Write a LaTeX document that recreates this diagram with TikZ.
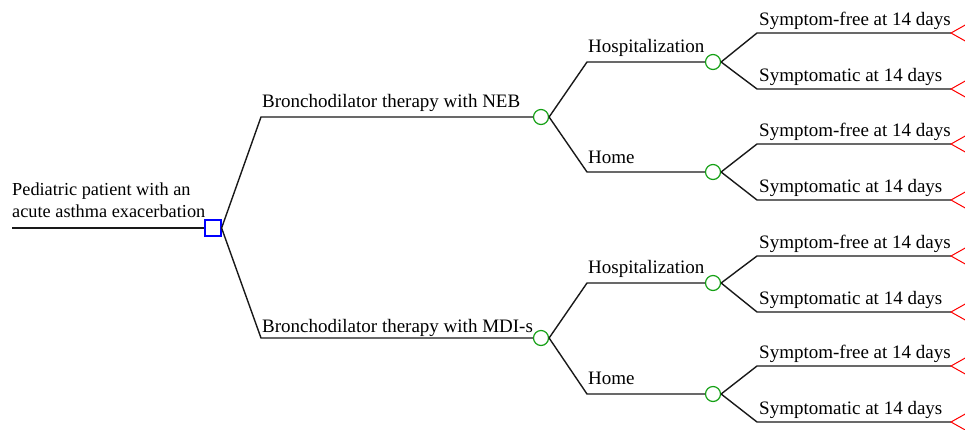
\documentclass[tikz,border=0pt]{standalone}
\usepackage{fontspec}
\setmainfont{Liberation Serif}
\definecolor{chgreen}{RGB}{20,160,20}
\definecolor{decblue}{RGB}{0,0,255}
\definecolor{termred}{RGB}{255,0,0}
\begin{document}
\begin{tikzpicture}[x=1pt,y=-1pt,
  branch/.style={draw=black!90, line width=1.4pt},
  chance/.style={circle, draw=chgreen, line width=1.2pt, minimum size=15pt, inner sep=0pt},
  decision/.style={rectangle, draw=decblue, line width=1.2pt, minimum size=16pt, inner sep=0pt},
  lbl/.style={anchor=base west, inner sep=0pt, font=\fontsize{19}{22}\selectfont},
  term/.style={draw=termred, line width=1pt}]
\useasboundingbox (0,0) rectangle (965,429);
% root
\coordinate (r0) at (12,228);
\node[decision] (d) at (213,228) {};
\draw[branch] (r0) -- (d.west);
\node[lbl, align=left, font=\fontsize{18.3}{22}\selectfont] (rootlbl) at (12,217) {Pediatric patient with an\\acute asthma exacerbation};
% first level
\coordinate (b1) at (261,117);
\coordinate (b2) at (261,338);
\node[chance] (c1) at (541,117) {};
\node[chance] (c2) at (541,338) {};
\draw[branch] (d.east) -- (b1) -- (c1.west);
\draw[branch] (d.east) -- (b2) -- (c2.west);
\node[lbl] (l1) at (262,107) {Bronchodilator therapy with NEB};
\node[lbl] (l2) at (262,332) {Bronchodilator therapy with MDI-s};
% second level
\coordinate (b11) at (587,62);
\coordinate (b12) at (587,172);
\coordinate (b21) at (587,283);
\coordinate (b22) at (587,394);
\node[chance] (c11) at (713,62) {};
\node[chance] (c12) at (713,172) {};
\node[chance] (c21) at (713,283) {};
\node[chance] (c22) at (713,394) {};
\draw[branch] (c1.east) -- (b11) -- (c11.west);
\draw[branch] (c1.east) -- (b12) -- (c12.west);
\draw[branch] (c2.east) -- (b21) -- (c21.west);
\draw[branch] (c2.east) -- (b22) -- (c22.west);
\node[lbl] (l11) at (588,52) {Hospitalization};
\node[lbl] (l12) at (588,163) {Home};
\node[lbl] (l21) at (588,273) {Hospitalization};
\node[lbl] (l22) at (588,384) {Home};
% third level
\foreach \c/\ya/\yb/\n in {c11/33/89/1, c12/144/200/2, c21/256/312/3, c22/366/422/4}{
  \coordinate (s\n a) at (757,\ya);
  \coordinate (s\n b) at (757,\yb);
  \coordinate (t\n a) at (951,\ya);
  \coordinate (t\n b) at (951,\yb);
  \draw[branch] (\c.east) -- (s\n a) -- (t\n a);
  \draw[branch] (\c.east) -- (s\n b) -- (t\n b);
  \node[lbl] (ls\n a) at (759,\ya-8) {Symptom-free at 14 days};
  \node[lbl] (ls\n b) at (759,\yb-8) {Symptomatic at 14 days};
  \coordinate (u\n a) at (967,\ya-9);
  \coordinate (v\n a) at (967,\ya+9);
  \coordinate (u\n b) at (967,\yb-9);
  \coordinate (v\n b) at (967,\yb+9);
  \draw[term] (u\n a) -- (t\n a) -- (v\n a);
  \draw[term] (u\n b) -- (t\n b) -- (v\n b);
}
\end{tikzpicture}
\end{document}
